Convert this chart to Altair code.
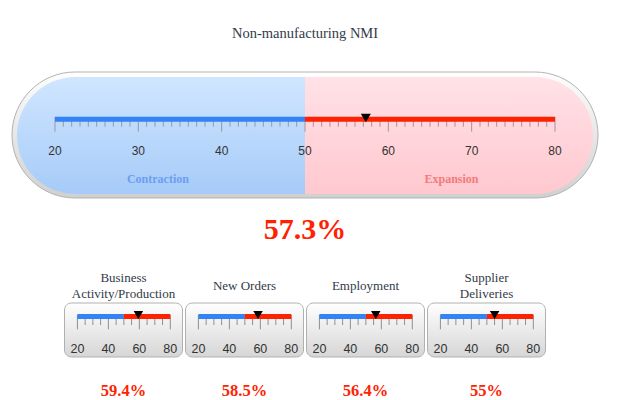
import altair as alt
import pandas as pd

# ---------------- data ----------------
TITLE = "Non-manufacturing NMI"
MAIN_VALUE = 57.3
ZONE_NAMES = ["Contraction", "Expansion"]
ZONE_START = [20, 50]
ZONE_END = [50, 80]
ZONE_COLORS = ["#3382f6", "#ff2200"]
MAIN_TICKS = list(range(20, 81))
MAIN_LABELS = [20, 30, 40, 50, 60, 70, 80]

SUB_TITLES = ["Business\nActivity/Production", "New Orders", "Employment", "Supplier\nDeliveries"]
SUB_VALUES = [59.4, 58.5, 56.4, 55]
SUB_TICKS = list(range(20, 81, 5))
SUB_LABELS = [20, 40, 60, 80]

# ---------------- styles ----------------
SERIF = "Liberation Serif"
SANS = "Liberation Sans"
TEXT = "#333a48"
RED = "#ff2200"


def grad(top, bottom):
    return alt.Gradient(
        gradient="linear",
        stops=[alt.GradientStop(color=top, offset=0), alt.GradientStop(color=bottom, offset=1)],
        x1=0, x2=0, y1=0, y2=1,
    )


zones = pd.DataFrame({"zone": ZONE_NAMES, "start": ZONE_START, "end": ZONE_END})
zone_color = alt.Color("zone:N", scale=alt.Scale(domain=ZONE_NAMES, range=ZONE_COLORS), legend=None)
one = pd.DataFrame({"k": [0]})


def pct(v):
    return f"{v:g}%"


# ---------------- main gauge ----------------
xm = alt.Scale(domain=[20, 80], range=[47, 547])


def XM(f):
    return alt.X(f, scale=xm, axis=None)


main_minor = pd.DataFrame({"v": [t for t in MAIN_TICKS if t not in MAIN_LABELS]})
main_major = pd.DataFrame({"v": MAIN_LABELS})

title = alt.Chart(pd.DataFrame({"t": [TITLE]})).mark_text(
    font=SERIF, fontSize=14.5, color=TEXT, baseline="alphabetic", align="center"
).encode(x=alt.value(297), y=alt.value(30), text="t:N")

rim = alt.Chart(one).mark_rect(
    cornerRadius=63, fill=grad("#fefefe", "#d0d0d0"), stroke="#b3b3b3", strokeWidth=1
).encode(x=alt.value(4), x2=alt.value(590), y=alt.value(64), y2=alt.value(190))

blue_bg = alt.Chart(one).mark_rect(
    cornerRadiusTopLeft=58.5, cornerRadiusBottomLeft=58.5, fill=grad("#d0e6ff", "#a6cbf8")
).encode(x=alt.value(9), x2=alt.value(297), y=alt.value(69), y2=alt.value(186))

pink_bg = alt.Chart(one).mark_rect(
    cornerRadiusTopRight=58.5, cornerRadiusBottomRight=58.5, fill=grad("#ffe2e7", "#ffc8cf")
).encode(x=alt.value(297), x2=alt.value(585), y=alt.value(69), y2=alt.value(186))

minor_t = alt.Chart(main_minor).mark_rule(color="#9a9a9a", strokeWidth=1).encode(
    x=XM("v:Q"), y=alt.value(109), y2=alt.value(118.7)
)
major_t = alt.Chart(main_major).mark_rule(color="#9a9a9a", strokeWidth=1).encode(
    x=XM("v:Q"), y=alt.value(109), y2=alt.value(123.7)
)
bar = alt.Chart(zones).mark_rect().encode(
    x=XM("start:Q"), x2="end:Q", y=alt.value(108.7), y2=alt.value(113.7), color=zone_color
)
labels = alt.Chart(main_major).mark_text(
    font=SANS, fontSize=12, color="#333333", baseline="alphabetic", align="center"
).encode(x=XM("v:Q"), y=alt.value(147), text="v:Q")

pointer = alt.Chart(pd.DataFrame({"value": [MAIN_VALUE]})).mark_point(
    shape="triangle-down", filled=True, size=100, color="black", opacity=1, strokeWidth=0
).encode(x=XM("value:Q"), y=alt.value(110))

contr = alt.Chart(pd.DataFrame({"t": [ZONE_NAMES[0]]})).mark_text(
    font=SERIF, fontSize=12, fontWeight="bold", color="#6c9ef2", baseline="alphabetic", align="center"
).encode(x=alt.value(149.9), y=alt.value(174.7), text="t:N")
expan = alt.Chart(pd.DataFrame({"t": [ZONE_NAMES[1]]})).mark_text(
    font=SERIF, fontSize=12, fontWeight="bold", color="#f27a7a", baseline="alphabetic", align="center"
).encode(x=alt.value(443.5), y=alt.value(174.7), text="t:N")

main_val = alt.Chart(pd.DataFrame({"t": [pct(MAIN_VALUE)]})).mark_text(
    font=SERIF, fontSize=30, fontWeight="bold", color=RED, baseline="alphabetic", align="center"
).encode(x=alt.value(297), y=alt.value(231.3), text="t:N")

main = alt.layer(
    title, rim, blue_bg, pink_bg, minor_t, major_t, bar, labels, pointer, contr, expan, main_val
).properties(width=594, height=250)

# ---------------- small gauges ----------------
xs = alt.Scale(domain=[20, 80], range=[13.4, 106.3])


def XS(f):
    return alt.X(f, scale=xs, axis=None)


sub_minor = pd.DataFrame({"v": [t for t in SUB_TICKS if t not in SUB_LABELS]})
sub_major = pd.DataFrame({"v": SUB_LABELS})


def sub_gauge(name, value):
    n_lines = name.count("\n") + 1
    t = alt.Chart(pd.DataFrame({"t": [name]})).mark_text(
        font=SERIF, fontSize=13, color=TEXT, baseline="middle", align="center", lineBreak="\n", lineHeight=16
    ).encode(x=alt.value(59.5), y=alt.value(28 - (n_lines - 1) * 8), text="t:N")
    box = alt.Chart(one).mark_rect(
        cornerRadius=7, fill=grad("#ffffff", "#d6d6d6"), stroke="#b0b0b0", strokeWidth=1
    ).encode(x=alt.value(0.5), x2=alt.value(118.5), y=alt.value(45), y2=alt.value(99))
    mi = alt.Chart(sub_minor).mark_rule(color="#8f8f8f", strokeWidth=1).encode(
        x=XS("v:Q"), y=alt.value(57), y2=alt.value(67)
    )
    ma = alt.Chart(sub_major).mark_rule(color="#8f8f8f", strokeWidth=1).encode(
        x=XS("v:Q"), y=alt.value(57), y2=alt.value(71.3)
    )
    b = alt.Chart(zones).mark_rect().encode(
        x=XS("start:Q"), x2="end:Q", y=alt.value(56), y2=alt.value(61), color=zone_color
    )
    lab = alt.Chart(sub_major).mark_text(
        font=SANS, fontSize=12.5, color="#333333", baseline="alphabetic", align="center"
    ).encode(x=XS("v:Q"), y=alt.value(95.3), text="v:Q")
    p = alt.Chart(pd.DataFrame({"value": [value]})).mark_point(
        shape="triangle-down", filled=True, size=90, color="black", opacity=1, strokeWidth=0
    ).encode(x=XS("value:Q"), y=alt.value(57))
    v = alt.Chart(pd.DataFrame({"t": [pct(value)]})).mark_text(
        font=SERIF, fontSize=16.5, fontWeight="bold", color=RED, baseline="alphabetic", align="center"
    ).encode(x=alt.value(59.5), y=alt.value(137.7), text="t:N")
    return alt.layer(t, box, mi, ma, b, lab, p, v).properties(width=119, height=134)


row = alt.hconcat(*[sub_gauge(n, v) for n, v in zip(SUB_TITLES, SUB_VALUES)], spacing=2)

chart = alt.vconcat(main, row, spacing=0, center=True).configure_view(stroke=None).properties(
    padding={"left": 0, "top": 0, "right": 0, "bottom": 0}
)

chart.save("out.html", embed_options={"renderer": "svg", "actions": False})
